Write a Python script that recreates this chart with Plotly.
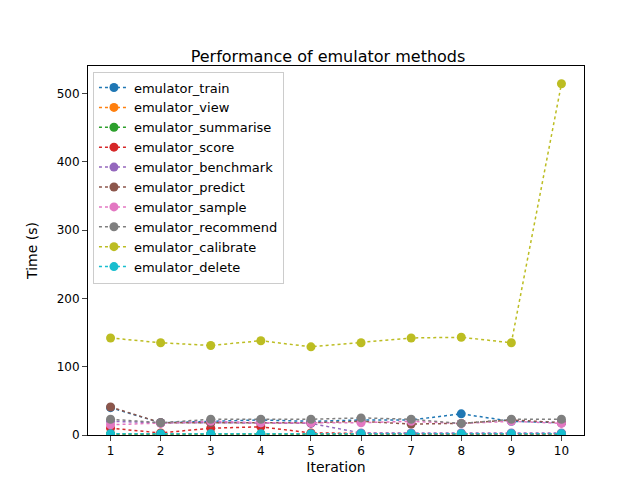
import plotly.graph_objects as go

iterations = list(range(1, 11))
emulator_train = [40, 18, 20, 22, 20, 22, 22, 31, 20, 18]
emulator_view = [1, 1, 1, 1, 1, 1, 1, 1, 1, 1]
emulator_summarise = [1.5, 1.5, 1.5, 1.5, 1.5, 1.5, 1.5, 1.5, 1.5, 1.5]
emulator_score = [10, 3, 10, 12, 3, 2, 2, 2, 2, 2]
emulator_benchmark = [20, 18, 18, 18, 17, 3, 3, 3, 3, 3]
emulator_predict = [41, 18, 18, 18, 18, 20, 16, 17, 22, 18]
emulator_sample = [15, 17, 20, 18, 18, 18, 20, 17, 20, 17]
emulator_recommend = [23, 18, 23, 23, 23, 25, 23, 17, 23, 23]
emulator_calibrate = [142, 135, 131, 138, 129, 135, 142, 143, 135, 514]
emulator_delete = [2, 2, 2, 2, 2, 2, 2, 2, 2, 2]

series = [
    ("emulator_train", emulator_train, "#1f77b4"),
    ("emulator_view", emulator_view, "#ff7f0e"),
    ("emulator_summarise", emulator_summarise, "#2ca02c"),
    ("emulator_score", emulator_score, "#d62728"),
    ("emulator_benchmark", emulator_benchmark, "#9467bd"),
    ("emulator_predict", emulator_predict, "#8c564b"),
    ("emulator_sample", emulator_sample, "#e377c2"),
    ("emulator_recommend", emulator_recommend, "#7f7f7f"),
    ("emulator_calibrate", emulator_calibrate, "#bcbd22"),
    ("emulator_delete", emulator_delete, "#17becf"),
]

fig = go.Figure()
for name, vals, color in series:
    fig.add_trace(go.Scatter(
        x=iterations, y=vals, name=name, mode="lines+markers",
        line=dict(color=color, dash="dot", width=1.5),
        marker=dict(color=color, size=9),
    ))

fig.update_layout(
    width=640, height=480,
    template="simple_white",
    title=dict(text="Performance of emulator methods", x=0.5, xanchor="center", y=0.91, font=dict(size=16, color="black")),
    font=dict(family="DejaVu Sans", size=12, color="black"),
    margin=dict(l=80, r=64, t=58, b=53, autoexpand=False),
    xaxis=dict(title=dict(text="Iteration", standoff=4), range=[0.55, 10.45], tickvals=iterations,
               ticks="outside", mirror=True, showline=True, linecolor="black", automargin=False),
    yaxis=dict(title=dict(text="Time (s)"), range=[0, 540], tickvals=[0, 100, 200, 300, 400, 500],
               ticks="outside", mirror=True, showline=True, linecolor="black", automargin=False),
    legend=dict(x=0.01, y=0.985, xanchor="left", yanchor="top", bordercolor="#cccccc",
                borderwidth=1, bgcolor="rgba(255,255,255,0.8)", font=dict(size=13)),
    showlegend=True,
)

fig.write_html("out.html")
